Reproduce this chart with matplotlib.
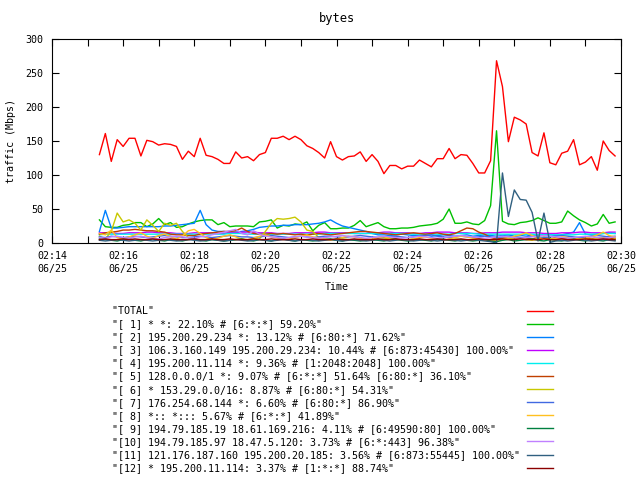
import numpy as np
import pandas as pd
import matplotlib
matplotlib.use('Agg')
import matplotlib.pyplot as plt
import matplotlib.dates as mdates
from matplotlib.ticker import MultipleLocator

# sample times, every 10 s
times = pd.date_range('2013-06-25 02:15:20', periods=88, freq='10s')

labels = [
    '"TOTAL"',
    '"[ 1] * *: 22.10% # [6:*:*] 59.20%"',
    '"[ 2] 195.200.29.234 *: 13.12% # [6:80:*] 71.62%"',
    '"[ 3] 106.3.160.149 195.200.29.234: 10.44% # [6:873:45430] 100.00%"',
    '"[ 4] 195.200.11.114 *: 9.36% # [1:2048:2048] 100.00%"',
    '"[ 5] 128.0.0.0/1 *: 9.07% # [6:*:*] 51.64% [6:80:*] 36.10%"',
    '"[ 6] * 153.29.0.0/16: 8.87% # [6:80:*] 54.31%"',
    '"[ 7] 176.254.68.144 *: 6.60% # [6:80:*] 86.90%"',
    '"[ 8] *:: *::: 5.67% # [6:*:*] 41.89%"',
    '"[ 9] 194.79.185.19 18.61.169.216: 4.11% # [6:49590:80] 100.00%"',
    '"[10] 194.79.185.97 18.47.5.120: 3.73% # [6:*:443] 96.38%"',
    '"[11] 121.176.187.160 195.200.20.185: 3.56% # [6:873:55445] 100.00%"',
    '"[12] * 195.200.11.114: 3.37% # [1:*:*] 88.74%"',
]

colors = ['#ff0000', '#00c000', '#0080ff', '#c000ff', '#00eeee', '#c04000',
          '#c8c800', '#4169e1', '#ffc020', '#008040', '#c080ff', '#306080', '#8b0000']

total = [130, 161, 120, 152, 142, 154, 154, 128, 151, 149, 144,
         146, 145, 142, 123, 135, 127, 154, 129, 127, 123, 117,
         117, 134, 125, 127, 121, 130, 133, 154, 154, 157, 152,
         157, 152, 143, 139, 133, 125, 149, 127, 122, 127, 128,
         134, 120, 130, 120, 102, 114, 114, 109, 113, 113, 122,
         117, 112, 124, 124, 139, 124, 130, 129, 117, 103, 103,
         121, 268, 230, 149, 185, 181, 175, 133, 128, 162, 118,
         115, 132, 135, 152, 115, 119, 127, 107, 150, 136, 128]

s1 = [34, 24, 23, 23, 26, 27, 30, 30, 24, 28, 36,
      27, 30, 23, 24, 28, 31, 33, 34, 34, 27, 30,
      24, 25, 25, 25, 24, 31, 32, 34, 22, 26, 25,
      28, 27, 31, 18, 26, 30, 21, 21, 22, 22, 26,
      33, 24, 27, 30, 24, 21, 21, 22, 22, 23, 25,
      26, 27, 29, 35, 50, 29, 29, 31, 28, 27, 33,
      55, 165, 32, 28, 27, 30, 31, 33, 37, 33, 29,
      29, 31, 47, 40, 34, 30, 25, 28, 42, 29, 31]

s2 = [17, 48, 22, 22, 23, 24, 24, 24, 24, 24, 24,
      25, 25, 26, 27, 28, 29, 48, 27, 19, 17, 17,
      16, 16, 17, 18, 20, 23, 24, 25, 25, 26, 26,
      27, 27, 27, 28, 29, 31, 34, 29, 25, 23, 21,
      19, 17, 14, 12, 12, 11, 12, 13, 12, 11, 11,
      12, 10, 11, 12, 11, 10, 11, 12, 10, 11, 12,
      11, 10, 11, 12, 10, 11, 12, 10, 11, 12, 12,
      11, 12, 14, 16, 30, 13, 12, 13, 14, 15, 14]

s3 = [15, 15, 15, 14, 14, 15, 15, 15, 16, 16, 15,
      15, 15, 14, 14, 14, 15, 15, 15, 15, 14, 14,
      15, 15, 16, 16, 16, 15, 15, 15, 14, 14, 14,
      15, 15, 15, 15, 16, 16, 15, 15, 15, 15, 14,
      14, 14, 15, 15, 16, 16, 15, 15, 15, 14, 14,
      15, 15, 16, 16, 16, 15, 15, 15, 14, 14, 15,
      15, 15, 16, 16, 16, 16, 15, 15, 15, 14, 14,
      14, 15, 15, 15, 16, 16, 15, 15, 15, 16, 16]

s4 = [12, 13, 13, 13, 13, 13, 13, 13, 13, 13, 13,
      13, 13, 13, 13, 13, 13, 13, 13, 13, 13, 13,
      14, 14, 14, 13, 13, 13, 13, 13, 13, 13, 13,
      13, 13, 13, 13, 13, 14, 14, 14, 14, 14, 14,
      14, 14, 14, 14, 14, 14, 14, 14, 14, 13, 13,
      13, 13, 13, 13, 13, 14, 14, 14, 14, 13, 13,
      13, 13, 13, 13, 13, 13, 13, 13, 12, 12, 12,
      12, 12, 12, 12, 13, 13, 13, 13, 14, 14, 14]

s5 = [13, 15, 16, 17, 19, 19, 20, 19, 18, 18, 17,
      16, 13, 12, 12, 11, 11, 13, 14, 15, 16, 17,
      17, 18, 22, 17, 14, 13, 13, 14, 13, 14, 13,
      12, 13, 12, 13, 14, 13, 12, 13, 14, 15, 16,
      17, 17, 16, 15, 14, 13, 12, 13, 14, 15, 14,
      13, 14, 15, 13, 12, 14, 18, 22, 21, 16, 13,
      8, 6, 7, 8, 7, 8, 7, 6, 8, 7, 6,
      8, 7, 6, 7, 8, 7, 6, 8, 7, 6, 7]

s6 = [10, 6, 17, 44, 31, 34, 29, 19, 34, 26, 17,
      29, 26, 29, 17, 8, 5, 4, 5, 6, 4, 5,
      4, 5, 6, 5, 6, 6, 17, 29, 36, 35, 36,
      38, 31, 19, 17, 8, 6, 5, 4, 6, 5, 4,
      5, 6, 4, 5, 6, 7, 5, 4, 5, 6, 5,
      4, 5, 6, 5, 4, 6, 5, 4, 5, 6, 5,
      4, 3, 5, 6, 8, 7, 5, 4, 6, 9, 7,
      5, 4, 6, 5, 7, 6, 5, 7, 8, 10, 7]

s7 = [9, 8, 10, 9, 8, 9, 10, 9, 8, 9, 10,
      11, 10, 9, 8, 8, 9, 10, 9, 8, 9, 10,
      11, 10, 9, 9, 8, 9, 10, 11, 10, 9, 8,
      9, 10, 9, 8, 9, 10, 10, 9, 8, 9, 10,
      11, 10, 9, 8, 8, 9, 10, 9, 8, 9, 10,
      11, 12, 10, 9, 8, 9, 10, 9, 8, 9, 10,
      9, 8, 9, 10, 9, 8, 9, 10, 9, 8, 9,
      10, 11, 10, 9, 8, 9, 10, 11, 10, 9, 10]

s8 = [14, 12, 19, 8, 6, 9, 12, 15, 10, 7, 11,
      13, 9, 6, 10, 18, 20, 14, 8, 5, 7, 10,
      12, 9, 6, 4, 7, 10, 12, 9, 7, 5, 6,
      8, 10, 12, 9, 7, 5, 4, 6, 8, 10, 9,
      7, 5, 6, 8, 9, 7, 6, 5, 4, 6, 8,
      9, 7, 5, 4, 6, 8, 10, 9, 7, 6, 5,
      4, 3, 6, 8, 10, 12, 15, 11, 8, 6, 5,
      7, 9, 8, 6, 5, 7, 9, 12, 16, 11, 9]

s9 = [6, 5, 4, 3, 5, 6, 4, 3, 5, 6, 4,
      3, 5, 4, 3, 5, 6, 4, 3, 5, 4, 3,
      4, 5, 6, 4, 3, 5, 4, 3, 5, 6, 4,
      3, 5, 4, 3, 4, 5, 6, 4, 3, 5, 4,
      3, 4, 5, 4, 3, 5, 6, 4, 3, 4, 5,
      4, 3, 5, 6, 4, 3, 5, 4, 3, 4, 5,
      3, 2, 4, 5, 3, 4, 5, 6, 4, 3, 5,
      4, 3, 5, 6, 4, 3, 5, 4, 3, 5, 4]

s10 = [8, 7, 9, 10, 8, 7, 9, 10, 8, 7, 6,
       8, 9, 10, 9, 8, 7, 9, 10, 12, 14, 16,
       18, 20, 14, 12, 18, 13, 10, 9, 8, 7, 8,
       9, 10, 9, 8, 7, 8, 9, 10, 11, 10, 9,
       8, 7, 8, 9, 10, 9, 8, 7, 8, 9, 10,
       9, 8, 7, 8, 9, 10, 11, 10, 9, 8, 7,
       8, 9, 10, 9, 8, 7, 8, 9, 10, 11, 10,
       9, 8, 7, 8, 9, 10, 9, 8, 7, 8, 9]

s11 = [4, 3, 4, 5, 4, 3, 4, 5, 4, 3, 4,
       5, 4, 3, 4, 5, 4, 3, 4, 5, 4, 3,
       4, 5, 4, 3, 4, 5, 4, 3, 4, 5, 4,
       3, 4, 5, 4, 3, 4, 5, 4, 3, 4, 5,
       4, 3, 4, 5, 4, 3, 4, 5, 4, 3, 4,
       5, 4, 3, 4, 5, 4, 3, 4, 5, 4, 3,
       2, 0, 103, 39, 78, 64, 63, 45, 3, 44, 1,
       3, 4, 3, 4, 5, 4, 3, 4, 5, 4, 3]

s12 = [5, 6, 5, 5, 6, 5, 6, 5, 5, 6, 5,
       5, 6, 5, 5, 5, 6, 5, 5, 6, 5, 5,
       6, 5, 5, 5, 6, 5, 5, 6, 5, 5, 5,
       6, 5, 5, 6, 5, 5, 5, 6, 5, 5, 6,
       5, 5, 5, 6, 5, 5, 6, 5, 5, 5, 6,
       5, 5, 6, 5, 5, 5, 6, 5, 5, 6, 5,
       5, 5, 6, 5, 5, 6, 5, 5, 5, 6, 5,
       5, 6, 5, 5, 5, 6, 5, 5, 6, 5, 5]

series = [total, s1, s2, s3, s4, s5, s6, s7, s8, s9, s10, s11, s12]

plt.rcParams['font.family'] = 'DejaVu Sans Mono'
plt.rcParams['font.size'] = 7.2

fig = plt.figure(figsize=(6.4, 4.8), dpi=100)
ax = fig.add_axes([52 / 640, 1 - 243 / 480, 569 / 640, 204 / 480])

handles = []
for vals, col, lab in zip(series, colors, labels):
    h, = ax.plot(times, vals, color=col, lw=1.0, label=lab)
    handles.append(h)

ax.set_xlim(pd.Timestamp('2013-06-25 02:14:00'), pd.Timestamp('2013-06-25 02:30:00'))
ax.set_ylim(0, 300)
ax.yaxis.set_major_locator(MultipleLocator(50))
ax.xaxis.set_major_locator(mdates.MinuteLocator(byminute=range(0, 60, 2)))
ax.xaxis.set_minor_locator(mdates.MinuteLocator())
ax.xaxis.set_major_formatter(mdates.DateFormatter('%H:%M\n%m/%d'))
ax.tick_params(which='both', direction='in', top=True, right=True, length=5, width=0.8)
ax.tick_params(axis='y', pad=6)
ax.tick_params(axis='x', pad=6)
for lbl in ax.get_xticklabels():
    lbl.set_linespacing(1.35)

ax.set_title('bytes', pad=12)
ax.set_xlabel('Time', labelpad=6)
ax.set_ylabel('traffic (Mbps)')
ax.yaxis.set_label_coords(-0.063, 0.5)

# monospace font: pad labels so the text column reads left aligned
width = max(len(s) for s in labels)
padded = [s.ljust(width) for s in labels]
fig.legend(handles, padded, loc='upper left', bbox_to_anchor=(112 / 640, 1 - 306 / 480),
           markerfirst=False, frameon=False, borderpad=0, borderaxespad=0,
           handlelength=2.6, handletextpad=0.65, labelspacing=0.31)

fig.savefig('out.png', dpi=100)
